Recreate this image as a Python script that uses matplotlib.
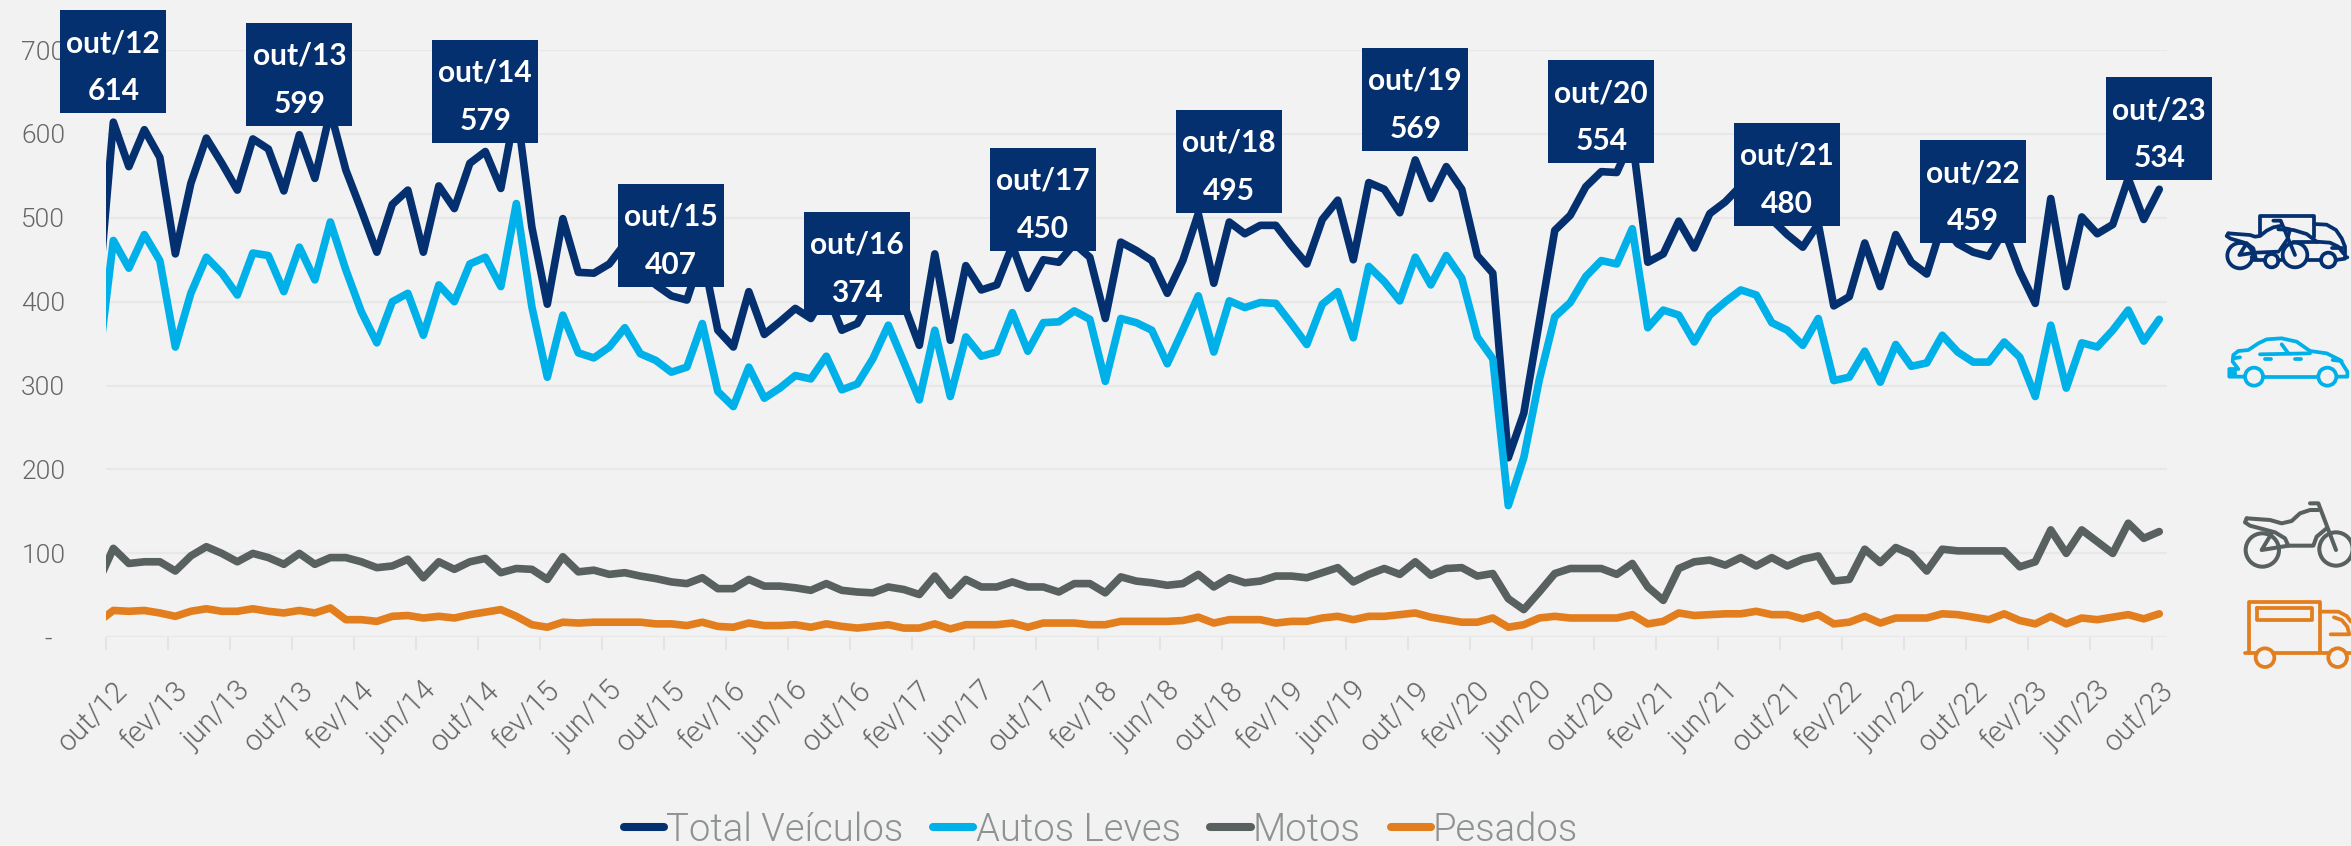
import numpy as np
import matplotlib
matplotlib.use("Agg")
import matplotlib.pyplot as plt
from matplotlib.patches import Rectangle, Circle
from matplotlib.transforms import ScaledTranslation

W, H = 2351, 846
# first value of each series is the month before out/12, clipped by the axis edge
total = [400,
 614,561,605,572,457,541,595,565,533,594,
 582,532,599,547,627,557,509,459,516,533,
 459,538,511,565,579,535,634,489,397,499,
 435,434,445,469,438,420,407,402,458,366,
 346,412,361,376,392,380,412,366,374,407,
 449,397,348,457,354,443,414,420,467,416,
 450,447,469,453,380,471,461,449,410,449,
 505,422,495,481,491,491,467,445,498,521,
 450,542,534,506,569,523,561,534,455,434,
 214,267,376,485,503,537,555,554,595,447,
 457,496,464,505,519,538,530,498,480,465,
 493,395,406,470,418,480,447,433,493,469,
 459,454,485,436,398,523,418,501,481,492,
 547,498,534]
autos = [320,
 473,440,480,449,346,410,453,434,408,458,
 455,412,465,426,495,438,388,351,400,410,
 360,420,400,445,453,418,517,394,310,384,
 339,333,346,369,338,330,316,322,374,293,
 275,322,285,297,312,308,335,295,302,332,
 372,328,283,366,287,358,335,340,387,341,
 375,376,389,379,305,380,375,366,326,366,
 407,340,401,393,399,398,374,349,397,412,
 357,442,424,401,453,420,455,428,358,332,
 157,214,307,382,399,430,449,445,487,369,
 390,384,352,384,400,414,408,375,366,348,
 380,306,310,341,304,349,323,327,360,340,
 328,328,352,334,287,372,297,351,346,366,
 390,353,379]
motos = [65,
 106,88,90,90,79,97,108,100,90,100,
 95,87,100,87,95,95,90,83,85,93,
 71,90,81,90,94,77,82,81,69,96,
 78,80,75,77,73,70,66,64,71,58,
 58,69,61,61,59,56,64,56,54,53,
 60,57,51,73,50,69,60,60,66,60,
 60,54,64,64,53,72,67,65,62,64,
 75,60,71,65,67,73,73,71,77,83,
 66,75,82,75,90,74,82,83,73,76,
 46,33,54,76,82,82,82,75,88,60,
 44,82,90,92,86,95,85,95,85,93,
 97,67,69,105,89,107,99,79,105,103,
 103,103,103,84,90,128,100,128,114,100,
 136,118,126]
pesados = [18,
 32,31,32,29,25,31,34,31,31,34,
 31,29,32,29,35,21,21,19,25,26,
 23,25,23,27,30,33,25,15,12,18,
 17,18,18,18,18,16,16,14,18,13,
 12,17,14,14,15,12,16,13,11,13,
 15,11,11,16,10,15,15,15,17,12,
 17,17,17,15,15,19,19,19,19,20,
 24,17,21,21,21,17,19,19,23,25,
 21,25,25,27,29,24,21,18,18,23,
 12,15,23,25,23,23,23,23,27,16,
 19,29,26,27,28,28,31,27,27,22,
 27,16,18,25,17,23,23,23,28,27,
 24,21,28,20,16,25,16,23,21,24,
 27,22,28]
tick_labels = ["out/12","fev/13","jun/13","out/13","fev/14","jun/14","out/14","fev/15","jun/15",
 "out/15","fev/16","jun/16","out/16","fev/17","jun/17","out/17","fev/18","jun/18","out/18",
 "fev/19","jun/19","out/19","fev/20","jun/20","out/20","fev/21","jun/21","out/21","fev/22",
 "jun/22","out/22","fev/23","jun/23","out/23"]
y_ticks = [0,100,200,300,400,500,600,700]
y_labels = ["-  ","100","200","300","400","500","600","700"]
box_values = [614,599,579,407,374,450,495,569,554,480,459,534]
box_labels = ["out/12","out/13","out/14","out/15","out/16","out/17","out/18","out/19","out/20","out/21","out/22","out/23"]
series_names = ["Total Veículos","Autos Leves","Motos","Pesados"]

NAVY, BLUE, GREY, ORANGE = "#05306F", "#00B0E9", "#596060", "#E37E1E"
BG = "#F2F2F2"
THIN = "Roboto"
BOLD = "Lato"

fig = plt.figure(figsize=(W/100, H/100), dpi=100, facecolor=BG)
L, R, T, B = 105.6, 2167, 50, 637.3
ax = fig.add_axes([L/W, 1-B/H, (R-L)/W, (B-T)/H], facecolor=BG)
x = np.arange(-1, 133)
for s, c in zip([total, autos, motos, pesados], [NAVY, BLUE, GREY, ORANGE]):
    ax.plot(x, s, color=c, lw=5.5, solid_joinstyle="round", solid_capstyle="round", zorder=3)
ax.set_xlim(-0.5, 132.5)
ax.set_ylim(0, 700)
ax.set_axisbelow(True)
ax.grid(axis="y", color="#E8E8E8", lw=1.6)
for sp in ax.spines.values():
    sp.set_visible(False)
ax.set_yticks(y_ticks)
ax.set_yticklabels(y_labels, fontsize=19, color="#666666", family=THIN, weight=300)
ax.tick_params(axis="y", length=0, pad=29)
ax.set_xticks(np.arange(0, 133, 4) - 0.5)
ax.set_xticklabels(tick_labels, rotation=45, ha="center", va="top", fontsize=21,
                   color="#666666", family=THIN, weight=300)
ax.tick_params(axis="x", length=9.5, width=1.2, color="#E2E2E2", pad=19)
shift = ScaledTranslation(-13/100, 0, fig.dpi_scale_trans)
for lab in ax.get_xticklabels():
    lab.set_transform(lab.get_transform() + shift)

# callout boxes
for k, (v, lb) in enumerate(zip(box_values, box_labels)):
    px, py = ax.transData.transform((k*12, v))
    ax.add_patch(Rectangle((px-53, py+9), 106, 103, transform=None, facecolor=NAVY,
                           edgecolor="none", zorder=5, clip_on=False))
    ax.text(px, py+79, lb, transform=None, color="white", fontsize=21.5, family=BOLD, weight="bold",
            ha="center", va="center", zorder=6, clip_on=False)
    ax.text(px, py+31, str(v), transform=None, color="white", fontsize=21.5, family=BOLD, weight="bold",
            ha="center", va="center", zorder=6, clip_on=False)

# legend
handles = [plt.Line2D([], [], color=c, lw=5.8, solid_capstyle="round") for c in [NAVY, BLUE, GREY, ORANGE]]
fig.legend(handles, series_names, loc="center", bbox_to_anchor=(1101/W, 1-830/H), ncol=4, frameon=False,
           prop=dict(family=THIN, weight=300, size=27.5), labelcolor="#8E9291",
           handlelength=1.05, handletextpad=0.06, columnspacing=0.78, borderpad=0, borderaxespad=0)

# icons in pixel space
ov = fig.add_axes([0, 0, 1, 1], facecolor="none")
ov.set_xlim(0, W); ov.set_ylim(H, 0); ov.axis("off")

def icon(ox, oy, color, lw, lines, wheels):
    for ln in lines:
        a = np.array(ln, dtype=float)
        ov.plot(ox + a[:, 0]/3, oy + a[:, 1]/3, color=color, lw=lw,
                solid_capstyle="round", solid_joinstyle="round", clip_on=True)
    for cx, cy, r in wheels:
        ov.add_patch(Circle((ox + cx/3, oy + cy/3), r/3, fill=False, edgecolor=color, lw=lw))

icon(2210, 200, NAVY, 2.7, [
    [(150,105),(150,48),(312,48),(312,112)],
    [(312,72),(350,74),(378,90),(395,115),(405,140),(405,172),(412,172)],
    [(125,172),(132,180),(165,180)],[(205,180),(215,180)],
    [(295,180),(332,180)],[(378,180),(405,176)],
    [(55,100),(120,105),(135,110),(150,108),(170,92),(190,82),(210,78)],
    [(205,88),(250,90),(290,102),(320,125),(360,128),(385,140),(400,160)],
    [(55,100),(50,108),(62,116),(110,130),(130,145),(138,178)],
    [(110,130),(88,165),(135,158),(205,155)],
    [(190,62),(212,62),(255,165)],
    [(225,85),(240,88),(232,118),(210,150)],
    [(250,125),(325,125)],[(365,145),(395,145)],
], [(90,167,38),(185,182,20),(255,165,37),(355,180,22)])

icon(2210, 325, BLUE, 2.7, [
    [(105,155),(58,155),(58,132),(85,132),(68,110),(70,90),(85,78),(115,75),(145,55),(170,43),
     (215,40),(260,50),(300,78),(350,85),(390,105),(412,140),(412,155),(385,155)],
    [(160,155),(325,155)],
    [(150,88),(300,85)],[(215,58),(235,85)],
    [(165,103),(182,103)],[(255,103),(272,103)],
    [(368,105),(395,108)],[(70,100),(90,97)],
    [(68,142),(76,142),(76,150),(68,150),(68,142)],
], [(132,155,27),(352,155,27)])

icon(2210, 495, GREY, 2.9, [
    [(110,70),(180,75),(215,85),(245,78),(270,55),(300,45),(325,45)],
    [(300,25),(325,25),(378,165)],
    [(110,70),(105,82),(120,92),(195,112),(225,130),(235,152),(310,152),(320,125),(350,100)],
    [(185,115),(155,165),(235,152)],
], [(157,165,50),(378,162,50)])

icon(2210, 590, ORANGE, 2.7, [
    [(118,190),(118,35),(330,35),(330,185)],
    [(140,55),(305,55),(305,90),(140,90),(140,55)],
    [(330,65),(385,65),(410,78),(423,95)],
    [(372,82),(395,90),(412,110),(418,133),(362,133)],
    [(105,190),(140,190)],[(190,190),(355,190)],[(408,190),(423,190)],
], [(165,203,28),(383,203,28)])

fig.savefig("out.png", dpi=100, facecolor=BG)
